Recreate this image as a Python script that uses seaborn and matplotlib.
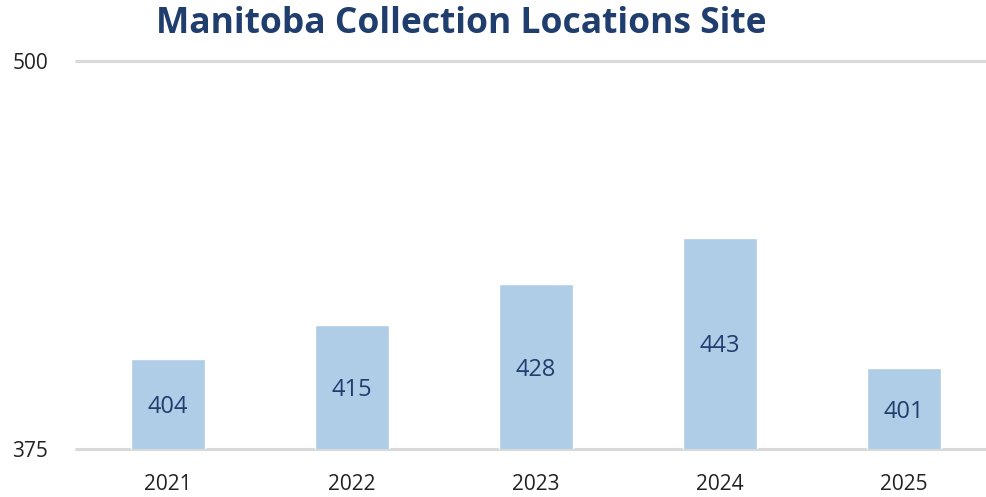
import pandas as pd
import matplotlib.pyplot as plt
import seaborn as sns

# Chart data
years = ['2021', '2022', '2023', '2024', '2025']
sites = [404, 415, 428, 443, 401]
y_ticks = [375, 500]

TITLE = 'Manitoba Collection Locations Site'
BAR_COLOR = '#AFCDE7'
NAVY = '#1F3D6D'
GRID = '#D9D9D9'

sns.set_theme(style="white")
plt.rcParams['font.family'] = ['Open Sans', 'DejaVu Sans']

df = pd.DataFrame({'Year': years, 'Sites': sites})

fig = plt.figure(figsize=(9.86, 4.97), dpi=100)
ax = fig.add_axes([76 / 986, 48 / 497, 910 / 986, 388 / 497])

sns.barplot(data=df, x='Year', y='Sites', color=BAR_COLOR, width=0.40,
            saturation=1, ax=ax, zorder=2)

ax.set_ylim(375, 500)
ax.set_xlim(-0.5, -0.5 + 910 / 184)
ax.set_yticks(y_ticks)
ax.yaxis.grid(True, color=GRID, linewidth=2.2)
for gl in ax.get_ygridlines():
    gl.set_clip_on(False)
ax.set_axisbelow(True)
for side in ['top', 'right', 'left', 'bottom']:
    ax.spines[side].set_visible(False)
ax.tick_params(axis='both', length=0, labelsize=15, colors='#222222')
ax.tick_params(axis='y', pad=20)
ax.tick_params(axis='x', pad=18)
ax.set_xlabel('')
ax.set_ylabel('')

# value labels in the middle of each bar
for p, v in zip(ax.patches, sites):
    ax.text(p.get_x() + p.get_width() / 2, (375 + v) / 2, f'{v}',
            ha='center', va='center_baseline', fontsize=17, color=NAVY,
            zorder=3)

fig.text(461 / 986, 1 - 24 / 497, TITLE, ha='center', va='center',
         fontsize=25.5, fontweight='bold', color=NAVY)

fig.savefig('out.png', dpi=100)
